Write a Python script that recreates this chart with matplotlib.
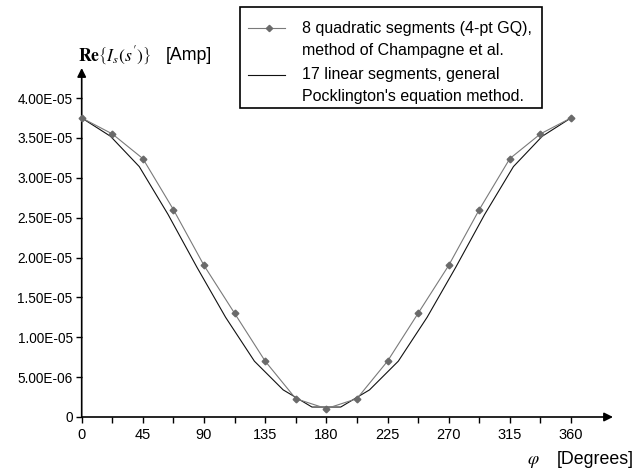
import matplotlib
matplotlib.use("Agg")
import matplotlib.pyplot as plt
from matplotlib.lines import Line2D
from matplotlib.patches import Rectangle
import numpy as np

# ---- data ----
quad_angles = [0, 22.5, 45, 67.5, 90, 112.5, 135, 157.5, 180,
               202.5, 225, 247.5, 270, 292.5, 315, 337.5, 360]
quad_values = [3.75e-5, 3.55e-5, 3.24e-5, 2.60e-5, 1.90e-5, 1.30e-5, 0.70e-5, 0.23e-5, 0.105e-5,
               0.23e-5, 0.70e-5, 1.30e-5, 1.90e-5, 2.60e-5, 3.24e-5, 3.55e-5, 3.75e-5]

lin_angles = [0, 21.18, 42.35, 63.53, 84.71, 105.88, 127.06, 148.24, 169.41,
              190.59, 211.76, 232.94, 254.12, 275.29, 296.47, 317.65, 338.82, 360]
lin_values = [3.75e-5, 3.52e-5, 3.14e-5, 2.54e-5, 1.88e-5, 1.25e-5, 0.70e-5, 0.34e-5, 0.125e-5,
              0.125e-5, 0.34e-5, 0.70e-5, 1.25e-5, 1.88e-5, 2.54e-5, 3.14e-5, 3.52e-5, 3.75e-5]

x_ticks = [0, 45, 90, 135, 180, 225, 270, 315, 360]
x_minor = [22.5, 67.5, 112.5, 157.5, 202.5, 247.5, 292.5, 337.5]
y_ticks = [0, 5e-6, 1e-5, 1.5e-5, 2e-5, 2.5e-5, 3e-5, 3.5e-5, 4e-5]
y_tick_labels = ["0", "5.00E-06", "1.00E-05", "1.50E-05", "2.00E-05",
                 "2.50E-05", "3.00E-05", "3.50E-05", "4.00E-05"]
legend_labels = ["8 quadratic segments (4-pt GQ),\nmethod of Champagne et al.",
                 "17 linear segments, general\nPocklington's equation method."]

plt.rcParams['font.family'] = ['Liberation Sans', 'DejaVu Sans']
plt.rcParams['mathtext.fontset'] = 'stix'

W, H = 639, 470
fig = plt.figure(figsize=(W / 100, H / 100), dpi=100)

def fx(x):
    return x / W

def fy(y):
    return 1 - y / H

x0, x1 = 81.7, 571.0
y0, y1 = 417.0, 98.0
ax = fig.add_axes([fx(x0), fy(y0), (x1 - x0) / W, (y0 - y1) / H])
ax.set_xlim(0, 360)
ax.set_ylim(0, 4e-5)
for s in ax.spines.values():
    s.set_visible(False)

gray = '#7a7a7a'
ax.plot(lin_angles, lin_values, color='#111111', lw=0.8, clip_on=False, zorder=3)
ax.plot(quad_angles, quad_values, color=gray, lw=0.8, marker='D', markersize=3.4,
        markerfacecolor='#6a6a6a', markeredgecolor='#6a6a6a', clip_on=False, zorder=4)

ax.set_xticks(x_ticks)
ax.set_xticks(x_minor, minor=True)
ax.set_xticklabels([str(t) for t in x_ticks])
ax.set_yticks(y_ticks)
ax.set_yticklabels(y_tick_labels)
ax.tick_params(axis='both', which='both', direction='out', length=4.5, width=1.0, color='black')
ax.tick_params(axis='x', which='major', pad=3.5, labelsize=10.5)
ax.tick_params(axis='y', which='major', pad=2.0, labelsize=9.8)
ax.tick_params(axis='x', which='minor', labelbottom=False)
ax.tick_params(axis='y', which='both', right=False)
ax.tick_params(axis='x', which='both', top=False)

# axis lines with arrows
ax.annotate('', xy=((613 - x0) / (x1 - x0), 0), xycoords=('axes fraction', 'data'),
            xytext=(0, 0), textcoords=('axes fraction', 'data'),
            arrowprops=dict(arrowstyle='-|>', mutation_scale=13, lw=1.2, color='black',
                            shrinkA=0, shrinkB=0), annotation_clip=False)
ax.annotate('', xy=(0, (y0 - 68) / (y0 - y1)), xycoords=('data', 'axes fraction'),
            xytext=(0, 0), textcoords=('data', 'axes fraction'),
            arrowprops=dict(arrowstyle='-|>', mutation_scale=13, lw=1.2, color='black',
                            shrinkA=0, shrinkB=0), annotation_clip=False)

# axis titles
fig.text(fx(78), fy(56), r"$\mathbf{Re}\left\{I_s(s^{\prime})\right\}$", fontsize=12.7,
         ha='left', va='center')
fig.text(fx(166), fy(55), "[Amp]", fontsize=12.8, ha='left', va='center')
fig.text(fx(533), fy(461), r"$\varphi$", fontsize=13, ha='center', va='center')
fig.text(fx(557), fy(459), "[Degrees]", fontsize=12.8, ha='left', va='center')

# legend (drawn manually)
fig.patches.append(Rectangle((fx(240), fy(108)), (542 - 240) / W, (108 - 7) / H,
                             transform=fig.transFigure, fill=False, lw=1.2,
                             edgecolor='black', facecolor='white'))
fig.lines.append(Line2D([fx(248), fx(285)], [fy(28), fy(28)], transform=fig.transFigure,
                        color=gray, lw=0.8))
fig.lines.append(Line2D([fx(268.5)], [fy(28)], transform=fig.transFigure, color=gray,
                        marker='D', markersize=3.2, markerfacecolor='#6a6a6a',
                        markeredgecolor='#6a6a6a', lw=0))
fig.lines.append(Line2D([fx(248), fx(285)], [fy(75), fy(75)], transform=fig.transFigure,
                        color='#111111', lw=0.8))
for lab, ytop in zip(legend_labels, [28, 75]):
    l1, l2 = lab.split("\n")
    fig.text(fx(302), fy(ytop), l1, fontsize=11.5, ha='left', va='center')
    fig.text(fx(302), fy(ytop + 22), l2, fontsize=11.5, ha='left', va='center')

fig.savefig("out.png", dpi=100)
